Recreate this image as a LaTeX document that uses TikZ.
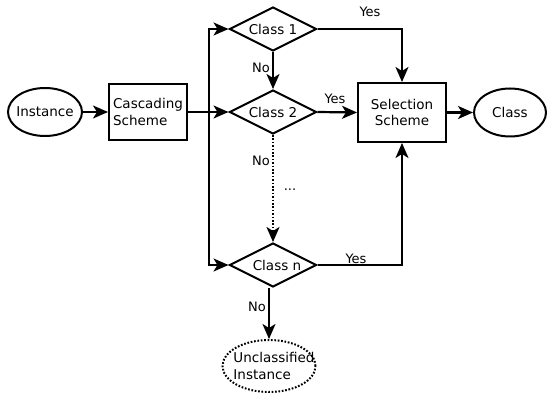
\documentclass[tikz,border=0pt]{standalone}
\usepackage{fontspec}
\setmainfont{DejaVu Sans}
\usetikzlibrary{shapes.geometric,arrows.meta}
\begin{document}
\begin{tikzpicture}[x=1pt,y=-1pt,
  every node/.style={font=\fontsize{13.5}{16.5}\selectfont, inner sep=0pt},
  txt/.style={label={[font=\fontsize{13.5}{16.5}\selectfont, inner sep=0pt, align=#1]center:}},
  conn/.style={line width=2.2pt, -{Stealth[length=15pt,width=13pt,inset=4pt]}},
  oval/.style={ellipse, draw, line width=2pt},
  box/.style={rectangle, draw, line width=2pt},
  dec/.style={diamond, draw, line width=2pt, minimum width=87pt, minimum height=44pt},
  lbl/.style={font=\fontsize{13}{15}\selectfont}]
\useasboundingbox (0,0) rectangle (547,393);
\node[oval, minimum width=74pt, minimum height=48pt,
  label={[inner sep=0pt]center:Instance}] (inst) at (45,112) {};
\node[box, minimum width=78pt, minimum height=56pt,
  label={[inner sep=0pt, align=left]center:Cascading\\Scheme}] (casc) at (148,112) {};
\node[dec, label={[inner sep=0pt]center:Class 1}] (cls1) at (273,29) {};
\node[dec, label={[inner sep=0pt]center:Class 2}] (cls2) at (273,112) {};
\node[dec, label={[inner sep=0pt, xshift=4pt]center:Class n}] (clsn) at (273,265) {};
\node[box, minimum width=88pt, minimum height=59pt,
  label={[inner sep=0pt, align=center]center:Selection\\Scheme}] (sel) at (402,112.5) {};
\node[oval, minimum width=72pt, minimum height=48pt,
  label={[inner sep=0pt]center:Class}] (cls) at (510,112.5) {};
\node[oval, dash pattern=on 1.7pt off 1.7pt, minimum width=93pt, minimum height=52pt,
  label={[inner sep=0pt, align=left, xshift=5pt]center:Unclassified\\Instance}] (uncl) at (269,366) {};
\coordinate (j) at (209,112);

\draw[conn] (inst) -- (casc);
\draw[conn] (casc) -- (cls2);
\draw[conn] (j) |- (cls1.west);
\draw[conn] (j) |- (clsn.west);
\draw[conn] (cls1.south) -- (cls2.north);
\draw[conn, dash pattern=on 1.7pt off 1.7pt] (cls2.south) -- (clsn.north);
\draw[conn] (clsn.south -| uncl.north) -- (uncl.north);
\draw[conn] (cls1.east) -| (sel.north);
\draw[conn] (cls2.east) -- (sel.west);
\draw[conn] (clsn.east) -| (sel.south);
\draw[conn] (sel) -- (cls);

\node[lbl] (no1) at (261,68) {No};
\node[lbl] (no2) at (261,161) {No};
\node[lbl] (dots) at (290,190) {...};
\node[lbl] (no3) at (257,307) {No};
\node[lbl] (yes1) at (370,12) {Yes};
\node[lbl] (yes2) at (335,99) {Yes};
\node[lbl] (yes3) at (356,259) {Yes};
\end{tikzpicture}
\end{document}
